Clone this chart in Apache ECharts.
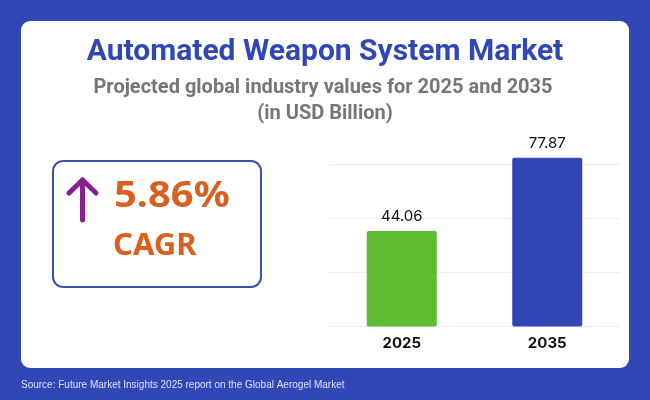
<!DOCTYPE html>
<html>
<head>
<meta charset="utf-8">
<style>html,body{margin:0;padding:0;background:#3047B5}#c{width:650px;height:400px}</style>
<script src="https://cdn.jsdelivr.net/npm/echarts@6/dist/echarts.min.js"></script>
</head>
<body>
<div id="c"></div>
<script>
const categories = ['2025', '2035'];
const values = [44.06, 77.87];
const barColors = ['#5FBB2F', '#3047B5'];
const titleText = 'Automated Weapon System Market';
const subtitleLine1 = 'Projected global industry values for 2025 and 2035';
const subtitleLine2 = '(in USD Billion)';
const cagrValue = '5.86%';
const cagrLabel = 'CAGR';
const sourceText = 'Source: Future Market Insights 2025 report on the Global Aerogel Market';

const chart = echarts.init(document.getElementById('c'), null, {renderer: 'canvas'});
chart.setOption({
  animation: false,
  backgroundColor: '#3047B5',
  grid: {left: 329, right: 30, top: 164, height: 162.5, containLabel: false, z: 5},
  xAxis: {
    type: 'category', data: categories,
    axisLine: {show: false}, axisTick: {show: false},
    axisLabel: {color: '#111', fontFamily: 'Inter', fontWeight: 700, fontSize: 15, margin: 9}
  },
  yAxis: {
    type: 'value', min: 0, max: 75, interval: 25,
    axisLine: {show: false}, axisTick: {show: false}, axisLabel: {show: false},
    splitLine: {lineStyle: {color: '#EDEEF0', width: 1}}
  },
  series: [{
    type: 'bar', barWidth: 70, clip: false, z: 5,
    data: values.map((v, i) => ({value: v, itemStyle: {color: barColors[i], borderRadius: 2}})),
    label: {show: true, position: 'top', distance: 7, color: '#111', fontFamily: 'Inter', fontSize: 15, formatter: p => p.value.toFixed(2)}
  }],
  graphic: [
    {type: 'rect', z: 0, zlevel: 0, shape: {x: 21, y: 21, width: 608, height: 347, r: 9}, style: {fill: '#fff'}},
    {type: 'text', z: 10, style: {x: 325, y: 52, text: titleText, fill: '#3047B5', font: '700 30px Roboto', textAlign: 'center', textVerticalAlign: 'middle'}},
    {type: 'text', z: 10, style: {x: 323, y: 88, text: subtitleLine1, fill: '#767676', font: '700 20px Roboto', textAlign: 'center', textVerticalAlign: 'middle'}},
    {type: 'text', z: 10, style: {x: 325, y: 114, text: subtitleLine2, fill: '#767676', font: '700 20px Roboto', textAlign: 'center', textVerticalAlign: 'middle'}},
    {type: 'rect', z: 10, shape: {x: 53, y: 161, width: 208, height: 126, r: 10}, style: {fill: '#fff', stroke: '#3F51AE', lineWidth: 2}},
    {type: 'polyline', z: 10, shape: {points: [[82.5, 220], [82.5, 180]]}, style: {stroke: '#84218C', lineWidth: 5, lineCap: 'round', fill: null}},
    {type: 'polyline', z: 10, shape: {points: [[69, 193], [82.5, 180], [96, 193]]}, style: {stroke: '#84218C', lineWidth: 5, lineCap: 'round', lineJoin: 'round', fill: null}},
    {type: 'text', z: 10, x: 114, y: 197, scaleX: 1.14, style: {x: 0, y: 0, text: cagrValue, fill: '#D9601F', font: '700 35px "Noto Sans"', textAlign: 'left', textVerticalAlign: 'middle'}},
    {type: 'text', z: 10, style: {x: 113, y: 246, text: cagrLabel, fill: '#D9601F', font: '700 31px "Noto Sans"', textAlign: 'left', textVerticalAlign: 'middle'}},
    {type: 'text', z: 10, style: {x: 21, y: 385, text: sourceText, fill: '#DDE3FA', font: '400 10px "Liberation Sans"', textAlign: 'left', textVerticalAlign: 'middle'}}
  ]
});
</script>
</body>
</html>
